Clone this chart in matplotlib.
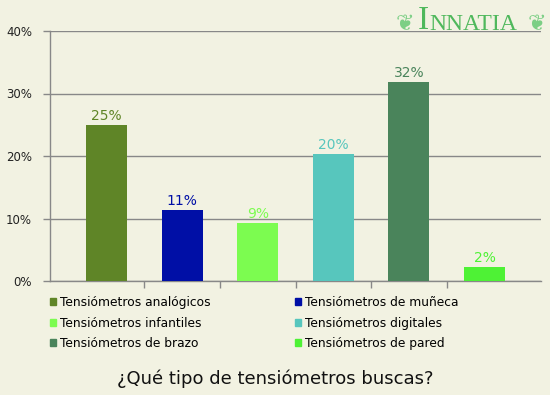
import matplotlib.pyplot as plt
from matplotlib.patches import Patch

# Data
categories = ['Tensiómetros analógicos', 'Tensiómetros de muñeca', 'Tensiómetros infantiles',
              'Tensiómetros digitales', 'Tensiómetros de brazo', 'Tensiómetros de pared']
values = [25.0, 11.4, 9.3, 20.4, 31.9, 2.3]
colors = ['#5f8527', '#000fa6', '#7cfc50', '#57c6bd', '#4a845b', '#4ef235']
yticks = [0, 10, 20, 30, 40]
title = '¿Qué tipo de tensiómetros buscas?'

bg = '#f2f2e2'
fig = plt.figure(figsize=(5.5, 3.95), dpi=100, facecolor=bg)
ax = fig.add_axes([50 / 550, 1 - 281 / 395, 491 / 550, 250 / 395], facecolor=bg)

x = list(range(len(values)))
ax.bar(x, values, width=0.54, color=colors, zorder=3)
for xi, v, c in zip(x, values, colors):
    ax.text(xi, v + 0.3, f'{round(v)}%', ha='center', va='bottom', color=c, fontsize=10)

ax.set_xlim(-0.747, 5.747)
ax.set_ylim(0, 40)
ax.set_yticks(yticks)
ax.set_yticklabels([f'{t}%' for t in yticks], fontsize=8.5, color='#222222')
ax.set_xticks([0.5, 1.5, 2.5, 3.5, 4.5])
ax.set_xticklabels([])
ax.tick_params(axis='both', color='#888888', length=5, width=1, direction='out')
ax.tick_params(axis='y', pad=8)
ax.grid(axis='y', color='#888888', linewidth=1, zorder=0)
for s in ['top', 'right']:
    ax.spines[s].set_visible(False)
for s in ['left', 'bottom']:
    ax.spines[s].set_color('#888888')
    ax.spines[s].set_linewidth(1)

# Legend in two columns, filled row by row like the original
order = [0, 2, 4, 1, 3, 5]
handles = [Patch(color=colors[i], label=categories[i]) for i in order]
fig.legend(handles=handles, ncol=2, loc='upper left', bbox_to_anchor=(50 / 550, 1 - 296 / 395),
           frameon=False, fontsize=8.8, handlelength=0.5, handleheight=0.5, handletextpad=0.35,
           columnspacing=6.85, labelspacing=0.62, borderpad=0, borderaxespad=0)

fig.text(275 / 550, 1 - 379 / 395, title, ha='center', va='center', fontsize=13, color='#111111')

# Logo
logo_green = '#4fb85c'
fig.text(418 / 550, 1 - 21 / 395, 'I', ha='left', va='center', fontsize=24,
         color=logo_green, family='Liberation Serif')
fig.text(429 / 550, 1 - 24 / 395, 'NNATIA', ha='left', va='center', fontsize=17,
         color=logo_green, family='Liberation Serif')
fig.text(405 / 550, 1 - 24 / 395, '❦', ha='center', va='center', fontsize=16, color='#7ccf85')
fig.text(537 / 550, 1 - 24 / 395, '❦', ha='center', va='center', fontsize=16, color='#7ccf85')

fig.savefig('out.png', dpi=100, facecolor=bg)
